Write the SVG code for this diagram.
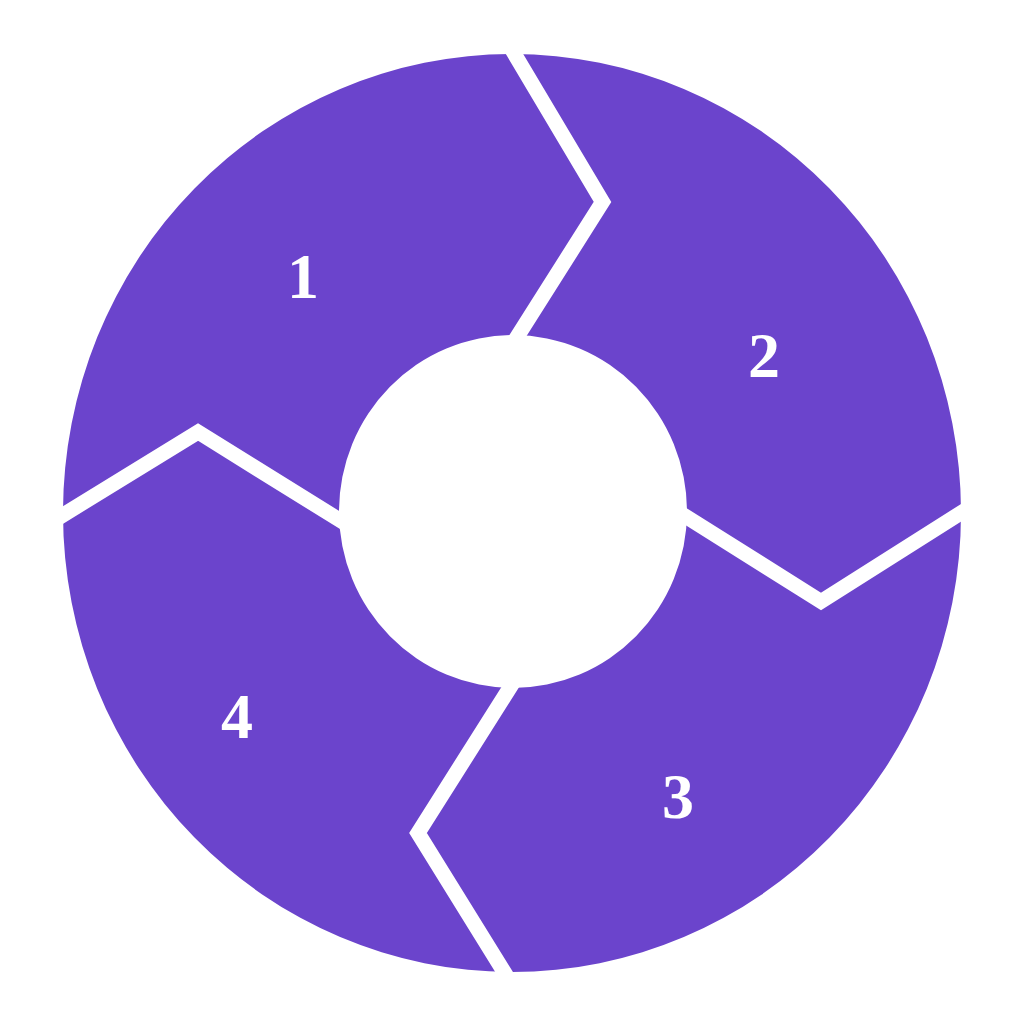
<svg xmlns="http://www.w3.org/2000/svg" width="1024" height="1024" viewBox="0 0 1024 1024">
<style>
.ring{fill:#6b44cc;fill-rule:evenodd}
.gap{fill:none;stroke:#ffffff;stroke-width:15;stroke-linejoin:miter;stroke-miterlimit:10}
.lbl{font-family:"Liberation Serif","DejaVu Serif",serif;font-weight:bold;font-size:64px;fill:#ffffff;text-anchor:middle}
</style>
<rect width="1024" height="1024" fill="#ffffff"/>
<g id="ring">
<path class="ring" d="M63,513 A449,459 0 1,0 961,513 A449,459 0 1,0 63,513 Z M339,511.5 A174,176.5 0 1,1 687,511.5 A174,176.5 0 1,1 339,511.5 Z"/>
</g>
<g id="connectors">
<polyline class="gap" points="505,38 602.5,202 512,345"/>
<polyline class="gap" points="677,511 821,601.5 975,504"/>
<polyline class="gap" points="516,678 418,833 514,988"/>
<polyline class="gap" points="50,523 198,432 346,524"/>
</g>
<g id="node1"><text class="lbl" x="303" y="298">1</text></g>
<g id="node2"><text class="lbl" x="764" y="377">2</text></g>
<g id="node3"><text class="lbl" x="678" y="818">3</text></g>
<g id="node4"><text class="lbl" x="237" y="738">4</text></g>
</svg>
